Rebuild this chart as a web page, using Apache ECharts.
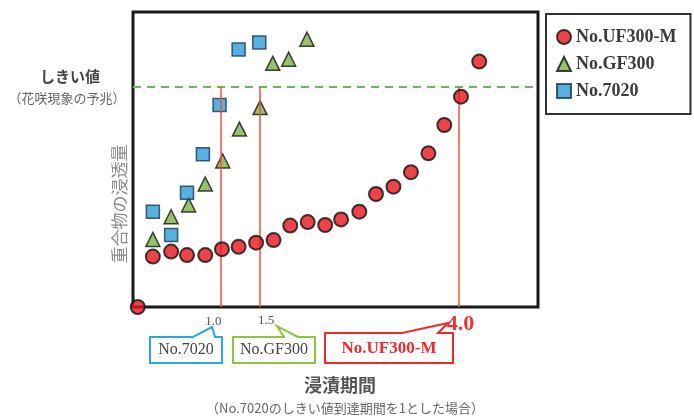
<!DOCTYPE html>
<html><head><meta charset="utf-8">
<script src="https://cdn.jsdelivr.net/npm/echarts@6/dist/echarts.min.js"></script>
<style>html,body{margin:0;padding:0;background:#fff}#c{width:694px;height:417px}</style>
</head><body><div id="c"></div>
<script>
// ---- data ----
const seriesNames = ['No.UF300-M', 'No.GF300', 'No.7020'];
const uf300x = [-0.04, 0.15, 0.38, 0.58, 0.81, 1.02, 1.23, 1.45, 1.67, 1.88, 2.10, 2.32, 2.52, 2.75, 2.96, 3.18, 3.40, 3.62, 3.82, 4.03, 4.26];
const uf300y = [0, 17.1, 18.8, 17.6, 17.6, 19.6, 20.4, 21.8, 22.7, 27.6, 28.8, 27.8, 29.7, 32.3, 38.3, 40.8, 45.7, 52.1, 61.7, 71.3, 83.2];
const gf300x = [0.15, 0.38, 0.60, 0.81, 1.03, 1.24, 1.50, 1.66, 1.86, 2.09];
const gf300y = [22.9, 30.6, 34.6, 41.7, 49.5, 60.3, 67.6, 82.6, 84.0, 90.8];
const n7020x = [0.15, 0.38, 0.58, 0.78, 0.99, 1.23, 1.49];
const n7020y = [32.3, 24.4, 38.7, 51.8, 68.5, 87.3, 89.7];
const thresholdValue = 74.7;
const reachTimes = [1.0, 1.5, 4.0];
const reachLabels = ['1.0', '1.5', '4.0'];

const zip = (xs, ys) => xs.map((x, i) => [x, ys[i]]);
const SERIF = '"Liberation Serif","Noto Sans CJK JP",serif';
const CJK = '"Noto Sans CJK JP","Liberation Serif",sans-serif';

const chart = echarts.init(document.getElementById('c'), null, {renderer: 'canvas'});
const option = {
  animation: false,
  grid: {left: 133, top: 12, right: 156, bottom: 110, show: true, borderColor: '#1a1a1a', borderWidth: 3, backgroundColor: '#fff'},
  xAxis: {type: 'value', min: -0.1, max: 5.0, axisLine: {show: false}, axisTick: {show: false}, axisLabel: {show: false}, splitLine: {show: false}},
  yAxis: {type: 'value', min: 0, max: 100, axisLine: {show: false}, axisTick: {show: false}, axisLabel: {show: false}, splitLine: {show: false}},
  legend: {
    data: seriesNames, orient: 'vertical', left: 546, top: 14,
    padding: [14, 14, 14, 10], itemGap: 9, itemWidth: 14, itemHeight: 14,
    borderColor: '#333', borderWidth: 2,
    textStyle: {fontFamily: SERIF, fontSize: 18, fontWeight: 'bold', color: '#3a3a3a'}
  },
  series: [
    {
      name: 'guides', type: 'scatter', data: [], z: 1, silent: true,
      markLine: {
        symbol: 'none', silent: true, label: {show: false}, animation: false,
        data: [
          {yAxis: thresholdValue, lineStyle: {color: '#66bb55', width: 2, type: [8, 6]}},
          ...reachTimes.map(t => [
            {coord: [t, thresholdValue], lineStyle: {color: '#f0503c', width: 1.5, type: 'solid'}},
            {coord: [t, 0]}
          ])
        ]
      }
    },
    {
      name: seriesNames[0], type: 'scatter', z: 5, clip: false, symbol: 'circle', symbolSize: 14,
      itemStyle: {color: '#e8141c', borderColor: '#111', borderWidth: 2},
      data: zip(uf300x, uf300y)
    },
    {
      name: seriesNames[1], type: 'scatter', z: 4, clip: false, symbol: 'triangle', symbolSize: 14,
      itemStyle: {color: '#7cb445', borderColor: '#111', borderWidth: 1.5},
      data: zip(gf300x, gf300y)
    },
    {
      name: seriesNames[2], type: 'scatter', z: 4, clip: false, symbol: 'rect', symbolSize: 13,
      itemStyle: {color: '#2c9ed8', borderColor: '#1c3552', borderWidth: 1.5},
      data: zip(n7020x, n7020y)
    }
  ]
};
chart.setOption(option);

const px = v => chart.convertToPixel({gridIndex: 0}, [v, 0]);
const p1 = px(reachTimes[0]), p15 = px(reachTimes[1]), p4 = px(reachTimes[2]);
const baseY = p1[1];

function callout(pts, color) {
  return {type: 'polygon', shape: {points: pts}, style: {fill: '#fff', stroke: color, lineWidth: 2}, z: 10};
}
const graphics = [
  // tick annotations
  {type: 'text', x: p1[0] - 7, y: baseY + 15, style: {text: reachLabels[0], font: '13px ' + SERIF, fill: '#555', align: 'center', verticalAlign: 'middle'}, z: 11},
  {type: 'text', x: p15[0] + 6, y: baseY + 14, style: {text: reachLabels[1], font: '13px ' + SERIF, fill: '#555', align: 'center', verticalAlign: 'middle'}, z: 11},
  {type: 'text', x: p4[0] + 2, y: baseY + 17, style: {text: reachLabels[2], font: 'bold 22px ' + SERIF, fill: '#ee3333', align: 'center', verticalAlign: 'middle'}, z: 11},
  // callouts
  callout([[150,337],[193,337],[212,327],[215,337],[222,337],[222,363],[150,363]], '#2aa7e0'),
  callout([[233,337],[284,337],[277,326],[298,337],[315,337],[315,363],[233,363]], '#8cc63f'),
  callout([[325,333],[402,333],[448,323],[438,333],[453,333],[453,363],[325,363]], '#ee2a2a'),
  {type: 'text', x: 186, y: 350, style: {text: 'No.7020', font: '16px ' + SERIF, fill: '#444', align: 'center', verticalAlign: 'middle'}, z: 11},
  {type: 'text', x: 274, y: 350, style: {text: 'No.GF300', font: '16px ' + SERIF, fill: '#444', align: 'center', verticalAlign: 'middle'}, z: 11},
  {type: 'text', x: 389, y: 349, style: {text: 'No.UF300-M', font: 'bold 17px ' + SERIF, fill: '#ee2a2a', align: 'center', verticalAlign: 'middle'}, z: 11},
  // axis titles
  {type: 'text', x: 340, y: 385, style: {text: '浸漬期間', font: 'bold 18px ' + CJK, fill: '#555', align: 'center', verticalAlign: 'middle'}},
  {type: 'text', x: 345, y: 408, style: {text: '（No.7020のしきい値到達期間を1とした場合）', font: '13px ' + CJK, fill: '#666', align: 'center', verticalAlign: 'middle'}},
  {type: 'text', x: 120, y: 204, rotation: Math.PI / 2, style: {text: '重合物の浸透量', font: '17px ' + CJK, fill: '#8a8a8a', align: 'center', verticalAlign: 'middle'}},
  {type: 'text', x: 70, y: 76, style: {text: 'しきい値', font: 'bold 15px ' + CJK, fill: '#444', align: 'center', verticalAlign: 'middle'}},
  {type: 'text', x: 67, y: 98, style: {text: '（花咲現象の予兆）', font: '13px ' + CJK, fill: '#666', align: 'center', verticalAlign: 'middle'}}
];
chart.setOption({graphic: graphics});
</script></body></html>
